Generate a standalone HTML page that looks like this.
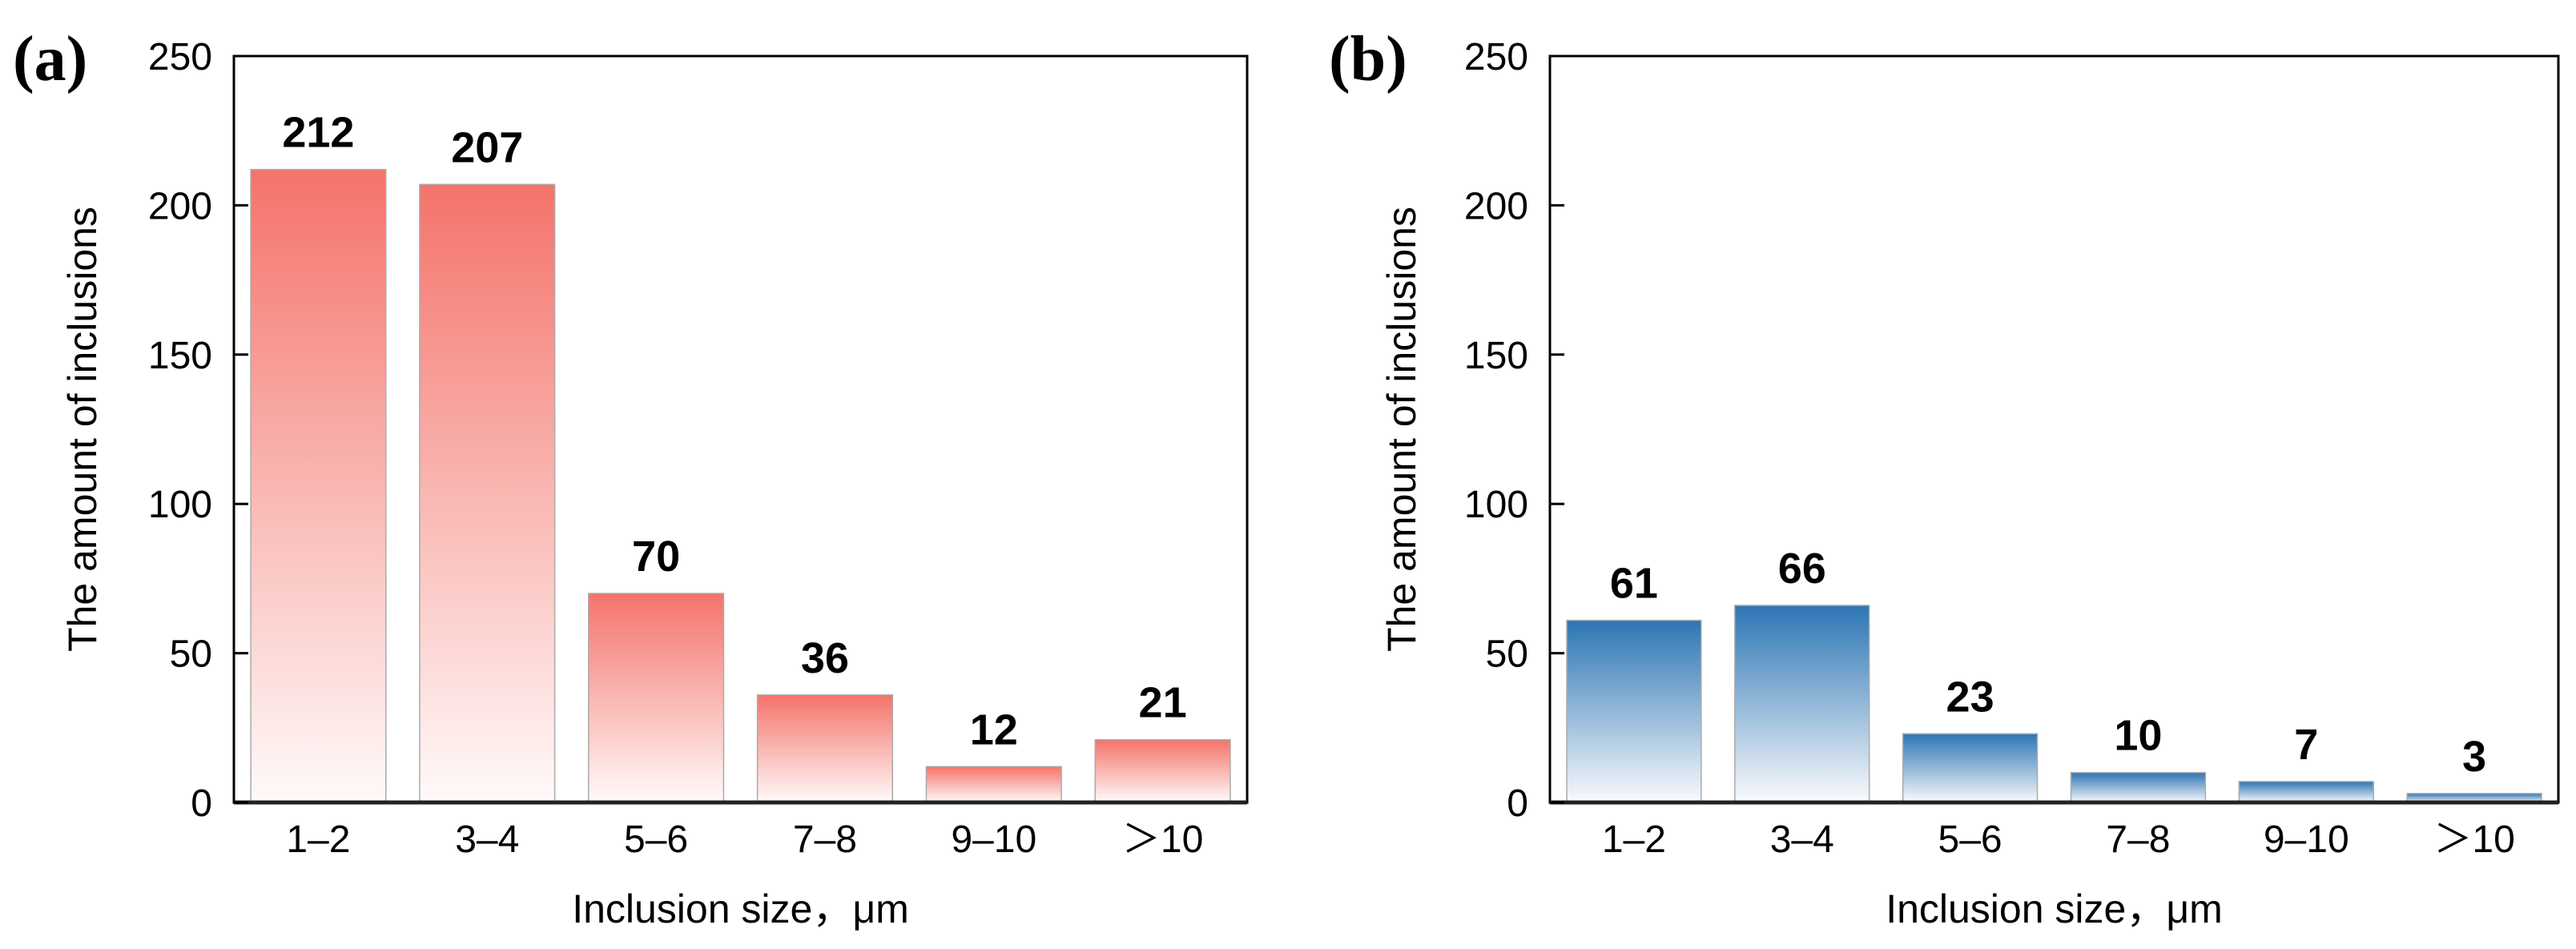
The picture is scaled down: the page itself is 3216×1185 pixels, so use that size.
<!DOCTYPE html>
<html><head><meta charset="utf-8"><style>
html,body{margin:0;padding:0;background:#fff;}
svg{display:block;}
text{font-family:"Liberation Sans",Arial,sans-serif;fill:#000;}
</style></head><body>
<svg id="chart" width="3216" height="1185" viewBox="0 0 3216 1185">
<defs>
<linearGradient id="gRed" x1="0" y1="0" x2="0" y2="1"><stop offset="0" stop-color="#f4736a"/><stop offset="1" stop-color="#fffafa"/></linearGradient>
<linearGradient id="gBlue" x1="0" y1="0" x2="0" y2="1"><stop offset="0" stop-color="#2c75b4"/><stop offset="1" stop-color="#f9fafc"/></linearGradient>
</defs>
</svg>
<script>
const categories = ["1–2","3–4","5–6","7–8","9–10","＞10"];
const valuesA = [212,207,70,36,12,21];
const valuesB = [61,66,23,10,7,3];
const yTicks = [0,50,100,150,200,250];
const yMax = 250;

const NS = "http://www.w3.org/2000/svg";
const svg = document.getElementById('chart');
function mk(tag, attrs, parent){ const e=document.createElementNS(NS,tag); for(const k in attrs) e.setAttribute(k,attrs[k]); (parent||svg).appendChild(e); return e; }

function panel(p){
  const g = mk('g',{});
  
  
  const top=70, bottom=1002, left=p.left, right=p.right;
  const y = v => bottom - (v/yMax)*(bottom-top);
  const band = (right-left)/categories.length;
  const x = i => left + band*i + band*0.1;
  // bars
  p.values.forEach((v,i)=>{
    const r = mk('rect',{x:x(i),y:y(v),width:band*0.8,height:bottom-y(v),fill:p.grad,stroke:'#aaaaaa','stroke-width':1.5},g);
    
    
    const t = mk('text',{x:x(i)+band*0.4,y:y(v)-28,'text-anchor':'middle','font-size':54,'font-weight':'bold'},g);
    t.textContent = v;
    
    
  });
  // frame
  const f = mk('rect',{x:left,y:top,width:right-left,height:bottom-top,fill:'none',stroke:'#000','stroke-width':3},g);
  
  
  const xl = mk('line',{x1:left,x2:right,y1:bottom,y2:bottom,stroke:'#222','stroke-width':5},g);
  
  
  // y ticks
  yTicks.forEach(v=>{
    mk('line',{x1:left,x2:left+18,y1:y(v),y2:y(v),stroke:'#000','stroke-width':3},g);
    const t = mk('text',{x:left-27,y:y(v)+17,'text-anchor':'end','font-size':48},g);
    t.textContent = v;
    
    
  });
  categories.forEach((c,i)=>{
    const t = mk('text',{x:x(i)+band*0.4,y:1064,'text-anchor':'middle','font-size':48},g);
    t.textContent = c;
    
    
  });
  const xt = mk('text',{x:(left+right)/2,y:1152,'text-anchor':'middle','font-size':50},g);
  xt.textContent = 'Inclusion size，μm';
  
  
  const yt = mk('text',{x:0,y:0,'text-anchor':'middle','font-size':50,transform:`translate(${p.ytx},${(top+bottom)/2}) rotate(-90)`},g);
  yt.textContent = 'The amount of inclusions';
  
  
  const lb = mk('text',{x:p.lx,y:100,'font-size':80,'font-weight':'bold',style:'font-family:"Liberation Serif",serif'},g);
  lb.textContent = '('+p.id+')';
  
  
}
panel({id:'a',values:valuesA,left:292,right:1557,grad:'url(#gRed)',ytx:120,lx:16});
panel({id:'b',values:valuesB,left:1935,right:3194,grad:'url(#gBlue)',ytx:1767,lx:1659});
</script>
</body></html>
